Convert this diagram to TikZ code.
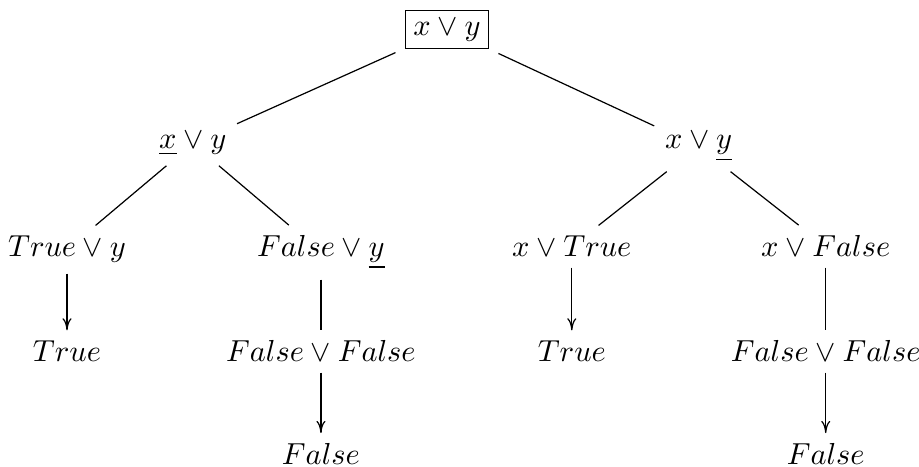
\documentclass[tikz,border=0pt]{standalone}
\usepackage{tikz}
\usetikzlibrary{arrows.meta}
\tikzset{
  term/.style={anchor=base,inner sep=3.33pt},
  rootterm/.style={term,draw,inner sep=2.6pt,outer sep=3.3pt},
  evalto/.style={-{Computer Modern Rightarrow[length=4pt,width=3pt]}},
}

\begin{document}
\begin{tikzpicture}[x=1cm,y=1cm]
\path[use as bounding box] (0,0) rectangle (10.63,-5.40);
\node[rootterm] (root) at (5.17,-0.405) {$x \vee y$};
\node[term] (left) at (2.23,-1.723) {$\underline{x} \vee y$};
\node[term] (right) at (8.08,-1.723) {$x \vee \underline{y}$};
\node[term] (lt) at (0.775,-2.972) {$True \vee y$};
\node[term] (lf) at (3.712,-2.972) {$False \vee \underline{y}$};
\node[term] (rt) at (6.614,-2.972) {$x \vee True$};
\node[term] (rf) at (9.551,-2.972) {$x \vee False$};
\node[term] (ltres) at (0.775,-4.186) {$True$};
\node[term] (lfor) at (3.712,-4.186) {$False \vee False$};
\node[term] (rtres) at (6.614,-4.186) {$True$};
\node[term] (rfor) at (9.551,-4.186) {$False \vee False$};
\node[term] (lfres) at (3.712,-5.377) {$False$};
\node[term] (rfres) at (9.551,-5.377) {$False$};
\draw (root) -- (left);
\draw (root) -- (right);
\draw (left) -- (lt);
\draw (left) -- (lf);
\draw (right) -- (rt);
\draw (right) -- (rf);
\draw[evalto] (lt) -- (ltres);
\draw (lf) -- (lfor);
\draw[evalto] (lfor) -- (lfres);
\draw[evalto] (rt) -- (rtres);
\draw (rf) -- (rfor);
\draw[evalto] (rfor) -- (rfres);
\end{tikzpicture}
\end{document}
